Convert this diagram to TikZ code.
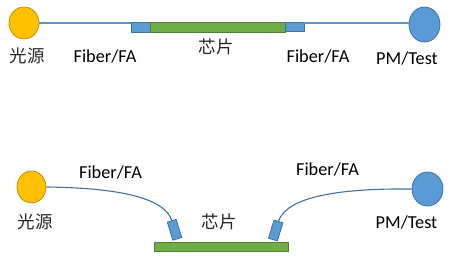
\documentclass[tikz,border=0pt]{standalone}
\usepackage{fontspec}
\setmainfont{Carlito}
\newfontfamily\cjk{Noto Sans CJK SC}
\usetikzlibrary{shapes.geometric}
\definecolor{srcY}{HTML}{FFC000}
\definecolor{srcYb}{HTML}{BF9000}
\definecolor{pmB}{HTML}{5B9BD5}
\definecolor{pmBb}{HTML}{41719C}
\definecolor{chipG}{HTML}{70AD47}
\definecolor{chipGb}{HTML}{507E32}
\tikzset{
  srcnode/.style={ellipse, fill=srcY, draw=srcYb, line width=0.8pt, inner sep=0pt},
  pmnode/.style={ellipse, fill=pmB, draw=pmBb, line width=0.8pt, inner sep=0pt},
  fanode/.style={rectangle, fill=pmB, draw=pmBb, line width=0.8pt, inner sep=0pt},
  chipnode/.style={rectangle, fill=chipG, draw=chipGb, line width=0.8pt, inner sep=0pt},
  fiber/.style={draw=pmB!90!pmBb, line width=1.9pt},
  fibercurve/.style={draw=pmBb, line width=1.1pt},
  lbl/.style={font=\fontsize{18.3}{20}\selectfont, inner sep=0pt},
  cjklbl/.style={font=\cjk\fontsize{17.5}{20}\selectfont, inner sep=0pt, text=black!85}
}
\begin{document}
\begin{tikzpicture}[x=1pt,y=-1pt]
\useasboundingbox (0,0) rectangle (454,269);
% ---------- top arrangement ----------
\node[srcnode, minimum width=30pt, minimum height=32pt] (srcT) at (24,23) {};
\node[pmnode, minimum width=31pt, minimum height=35pt] (pmT) at (424.5,24.5) {};
\node[fanode, minimum width=19pt, minimum height=10pt] (faLT) at (140.5,27) {};
\node[chipnode, minimum width=135pt, minimum height=10pt] (chipT) at (217.5,27.5) {};
\node[fanode, minimum width=19pt, minimum height=9.5pt] (faRT) at (294.5,26.7) {};
\draw[fiber] (srcT.east |- 0,23.3) -- (faLT.west |- 0,23.3);
\draw[fiber] (faRT.east |- 0,23.3) -- (pmT.west |- 0,23.3);
\node[cjklbl] (lsrcT) at (27,56) {光源};
\node[lbl, anchor=base] (lfaLT) at (105,62) {Fiber/FA};
\node[cjklbl] (lchipT) at (216,46.5) {芯片};
\node[lbl, anchor=base] (lfaRT) at (318,62) {Fiber/FA};
\node[lbl, anchor=base] (lpmT) at (407,64) {PM/Test};
% ---------- bottom arrangement ----------
\node[srcnode, minimum width=29pt, minimum height=32pt] (srcB) at (31.5,187) {};
\node[pmnode, minimum width=31pt, minimum height=34pt] (pmB) at (427.5,189) {};
\node[chipnode, minimum width=134pt, minimum height=9.5pt] (chipB) at (221,246.7) {};
\node[fanode, minimum width=9.3pt, minimum height=18.9pt, rotate=17] (faLB) at (174.5,229.8) {};
\node[fanode, minimum width=9.3pt, minimum height=18.9pt, rotate=-17] (faRB) at (275.7,230.5) {};
\draw[fibercurve] (srcB.east) .. controls (130,188) and (165.5,201) .. (faLB.north);
\draw[fibercurve] (faRB.north) .. controls (285,202) and (320,188) .. (pmB.west);
\node[cjklbl] (lsrcB) at (35,221.7) {光源};
\node[lbl, anchor=base] (lfaLB) at (110.5,178.3) {Fiber/FA};
\node[cjklbl] (lchipB) at (219,221.5) {芯片};
\node[lbl, anchor=base] (lfaRB) at (327.5,175) {Fiber/FA};
\node[lbl, anchor=base] (lpmB) at (406.5,228.3) {PM/Test};
\end{tikzpicture}
\end{document}
